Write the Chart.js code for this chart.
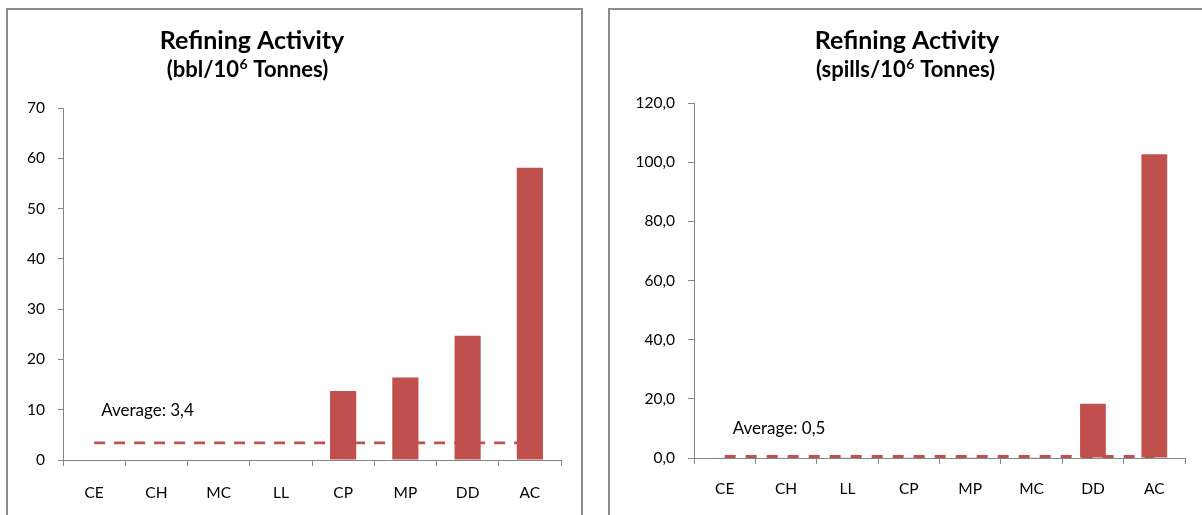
<!DOCTYPE html>
<html><head><meta charset="utf-8">
<script src="https://cdn.jsdelivr.net/npm/chart.js@4/dist/chart.umd.min.js"></script>
<style>
html,body{margin:0;padding:0;background:#fff;width:1202px;height:515px;overflow:hidden;position:relative}
.box{position:absolute;border:2px solid #8c8c8c;box-sizing:border-box;background:#fff}
#boxL{left:6px;top:8px;width:577px;height:540px}
#boxR{left:608px;top:8px;width:620px;height:540px}
canvas{position:absolute;top:0}
#cL{left:0}
#cR{left:600px}
</style></head>
<body>
<div class="box" id="boxL"></div>
<div class="box" id="boxR"></div>
<canvas id="cL" width="600" height="515"></canvas>
<canvas id="cR" width="602" height="515"></canvas>
<script>
// ---- Data ----
const catsLeft = ['CE','CH','MC','LL','CP','MP','DD','AC'];
const valsLeft = [0, 0, 0.1, 0.1, 13.7, 16.4, 24.7, 58.1];
const avgLeft = [3.4, 3.4, 3.4, 3.4, 3.4, 3.4, 3.4, 3.4];
const yTicksLeft = [0, 10, 20, 30, 40, 50, 60, 70];

const catsRight = ['CE','CH','LL','CP','MP','MC','DD','AC'];
const valsRight = [0.2, 0.2, 0.1, 0.1, 0.1, 0.1, 18.3, 102.7];
const avgRight = [0.5, 0.5, 0.5, 0.5, 0.5, 0.5, 0.5, 0.5];
const yTicksRight = [0, 20, 40, 60, 80, 100, 120];

const RED = '#C0504D';
const AXIS = '#868686';
const FONT = 'Lato';

const textPlugin = {
  id: 'textDraw',
  afterDraw(chart, args, o) {
    const ctx = chart.ctx;
    ctx.save();
    ctx.fillStyle = '#000';
    ctx.textBaseline = 'alphabetic';
    // main title
    ctx.font = 'bold 25px ' + FONT;
    ctx.textAlign = 'center';
    ctx.fillText(o.title, o.tx, o.ty);
    // subtitle with superscript
    const big = 'bold 22px ' + FONT, small = 'bold 14px ' + FONT;
    ctx.font = big; const w1 = ctx.measureText(o.pre).width; const w3 = ctx.measureText(o.post).width;
    ctx.font = small; const w2 = ctx.measureText(o.sup).width;
    let x = o.sx - (w1 + w2 + w3) / 2;
    ctx.textAlign = 'left';
    ctx.font = big; ctx.fillText(o.pre, x, o.sy); x += w1;
    ctx.font = small; ctx.fillText(o.sup, x + 0.5, o.sy - 8); x += w2 + 1;
    ctx.font = big; ctx.fillText(o.post, x, o.sy);
    // average label
    const xs = chart.scales.x, ys = chart.scales.y;
    ctx.font = '17px ' + FONT;
    ctx.textBaseline = 'middle';
    ctx.fillText(o.avgText, xs.getPixelForValue(0) + o.adx, ys.getPixelForValue(o.avg) + o.ady);
    ctx.restore();
  }
};

function makeChart(id, cats, vals, avg, yTicks, opts) {
  return new Chart(document.getElementById(id), {
    data: {
      labels: cats,
      datasets: [
        { type: 'bar', data: vals, backgroundColor: RED, borderWidth: 0,
          barPercentage: 0.42, categoryPercentage: 1, order: 1 },
        { type: 'line', data: avg, borderColor: RED, borderWidth: 2.8,
          borderDash: opts.dash, borderCapStyle: 'butt', pointRadius: 0, fill: false, order: 2 }
      ]
    },
    options: {
      responsive: false,
      animation: false,
      events: [],
      layout: { padding: { left: 0, right: opts.padRight, top: opts.padTop, bottom: 0 } },
      plugins: {
        legend: { display: false },
        tooltip: { enabled: false },
        title: { display: false },
        textDraw: opts.text
      },
      scales: {
        x: {
          type: 'category',
          offset: true,
          grid: { offset: true, drawOnChartArea: false, color: AXIS, tickLength: 6, tickColor: AXIS },
          border: { color: AXIS, width: 1 },
          ticks: { color: '#000', font: { family: FONT, size: 15.5 }, padding: opts.xPad, maxRotation: 0, autoSkip: false },
          afterFit(s) { s.height = opts.xHeight; }
        },
        y: {
          min: 0, max: yTicks[yTicks.length - 1],
          afterBuildTicks(s) { s.ticks = yTicks.map(v => ({ value: v })); },
          grid: { drawOnChartArea: false, color: AXIS, tickLength: opts.yTick, tickColor: AXIS },
          border: { color: AXIS, width: 1 },
          ticks: { color: '#000', font: { family: FONT, size: 15.5 }, padding: 13, callback: opts.fmt },
          afterFit(s) { s.width = opts.yWidth; }
        }
      }
    },
    plugins: [textPlugin]
  });
}

makeChart('cL', catsLeft, valsLeft, avgLeft, yTicksLeft, {
  dash: [11, 9], padRight: 39, padTop: 108, xHeight: 55, yWidth: 63, yTick: 5, xPad: 18,
  fmt: v => String(v),
  text: { title: 'Refining Activity', tx: 252, ty: 49, pre: '(bbl/10', sup: '6', post: ' Tonnes)', sx: 247, sy: 77,
          avgText: 'Average: 3,4', avg: avgLeft[0], adx: 7, ady: -32 }
});

makeChart('cR', catsRight, valsRight, avgRight, yTicksRight, {
  dash: [11, 10], padRight: 17, padTop: 103, xHeight: 57, yWidth: 94, yTick: 6, xPad: 16,
  fmt: v => Number(v).toFixed(1).replace('.', ','),
  text: { title: 'Refining Activity', tx: 307, ty: 49, pre: '(spills/10', sup: '6', post: ' Tonnes)', sx: 305, sy: 77,
          avgText: 'Average: 0,5', avg: avgRight[0], adx: 8, ady: -28 }
});
</script>
</body></html>
